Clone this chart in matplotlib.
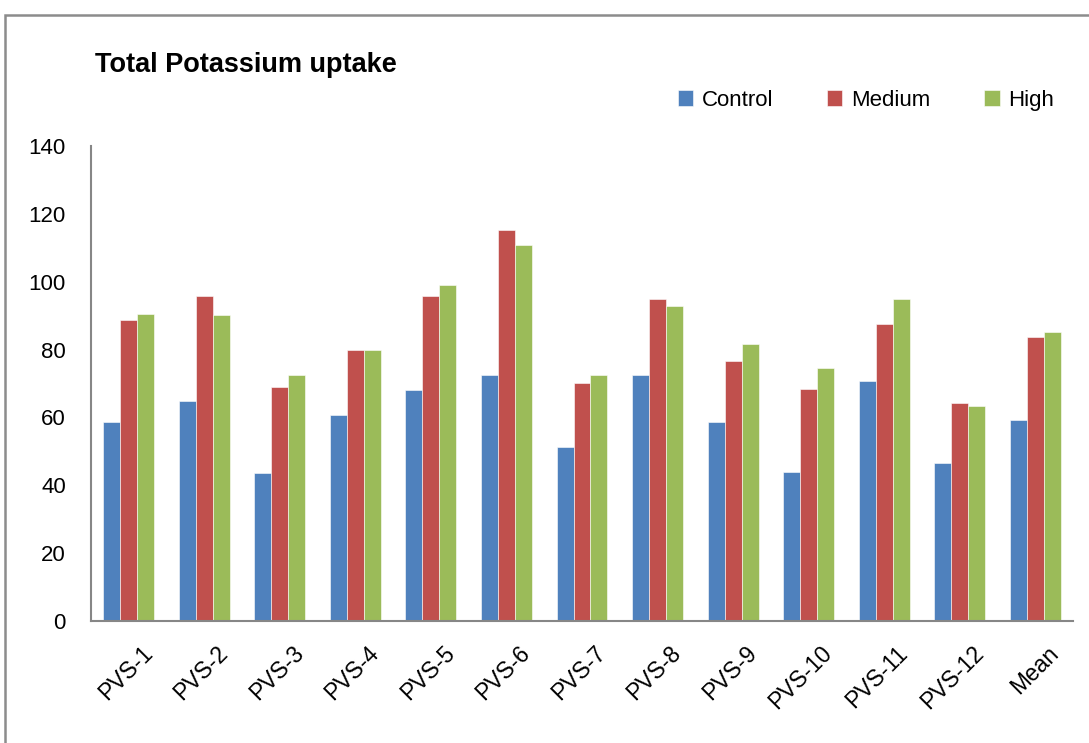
import numpy as np
import matplotlib.pyplot as plt
import matplotlib.transforms as mtransforms
from matplotlib.patches import Rectangle

plt.rcParams['font.family'] = ['Liberation Sans', 'DejaVu Sans']

categories = ["PVS-1", "PVS-2", "PVS-3", "PVS-4", "PVS-5", "PVS-6", "PVS-7",
              "PVS-8", "PVS-9", "PVS-10", "PVS-11", "PVS-12", "Mean"]
control = [58.7, 64.8, 43.7, 60.8, 68.2, 72.4, 51.3, 72.4, 58.8, 44.0, 70.7, 46.5, 59.3]
medium = [88.6, 95.9, 69.0, 79.9, 95.7, 115.3, 70.1, 95.0, 76.6, 68.5, 87.5, 64.3, 83.8]
high = [90.6, 90.1, 72.4, 80.0, 98.9, 110.8, 72.4, 92.8, 81.6, 74.5, 95.0, 63.3, 85.2]
series_names = ["Control", "Medium", "High"]
colors = ["#4F81BD", "#C0504D", "#9BBB59"]

fig = plt.figure(figsize=(10.89, 7.43), dpi=100)
ax = fig.add_axes([91/1089, 122/743, 982/1089, 475/743])

x = np.arange(len(categories))
w = 0.225
for i, (vals, name, c) in enumerate(zip([control, medium, high], series_names, colors)):
    ax.bar(x + (i - 1) * w, vals, w, color=c, label=name, edgecolor='white', linewidth=0.4)

ax.set_xlim(-0.5, len(categories) - 0.5)
ax.set_ylim(0, 140)
ax.set_yticks(range(0, 141, 20))
ax.tick_params(axis='y', length=0, labelsize=16, pad=18)
ax.tick_params(axis='x', length=0, labelsize=16.5)
ax.set_xticks(x)
ax.set_xticklabels(categories, rotation=45, ha='right', va='top', rotation_mode='anchor')
shift = mtransforms.ScaledTranslation(12/100, -16/100, fig.dpi_scale_trans)
for lbl in ax.get_xticklabels():
    lbl.set_transform(lbl.get_transform() + shift)
for s in ['top', 'right']:
    ax.spines[s].set_visible(False)
for s in ['left', 'bottom']:
    ax.spines[s].set_color('#868686')
    ax.spines[s].set_linewidth(1.5)

fig.text(95/1089, 1 - 72/743, "Total Potassium uptake", fontsize=19.5, fontweight='bold',
         va='baseline', ha='left')
ax.legend(loc='lower right', bbox_to_anchor=(0.99, 1.055), ncol=3, frameon=False,
          fontsize=16, handlelength=0.7, handleheight=0.7, handletextpad=0.4,
          columnspacing=2.4, borderaxespad=0)

fig.add_artist(Rectangle((5/1089, -0.05), 1.2, 1 - 15/743 + 0.05, transform=fig.transFigure,
                         fill=False, edgecolor='#8c8c8c', linewidth=1.8))

fig.savefig("out.png", dpi=100)
